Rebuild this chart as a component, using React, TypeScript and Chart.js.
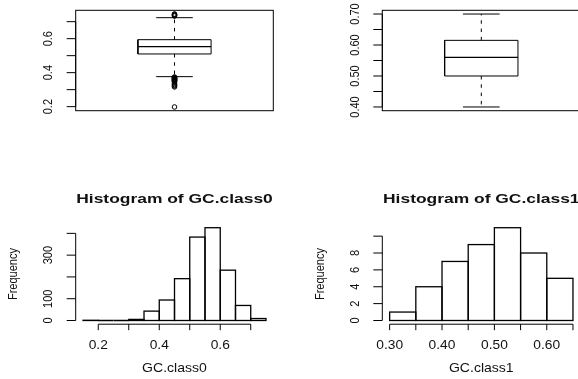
import React, { useEffect, useRef } from "react";
import { Chart, registerables } from "chart.js";

Chart.register(...registerables);

// ---------------- Data ----------------
// Boxplot of GC.class0: [lower whisker, Q1, median, Q3, upper whisker]
const box0Stats = [0.3765, 0.51, 0.553, 0.594, 0.7235];
const box0Outliers = [
  0.198, 0.316, 0.321, 0.326, 0.33, 0.338, 0.345, 0.349, 0.352, 0.354, 0.356, 0.358,
  0.36, 0.362, 0.364, 0.366, 0.368, 0.37, 0.372, 0.374, 0.733, 0.736, 0.74,
  0.743, 0.745,
];
const box0Ticks = [0.2, 0.3, 0.4, 0.5, 0.6, 0.7];
const box0TickLabels = ["0.2", "", "0.4", "", "0.6", ""];

// Boxplot of GC.class1
const box1Stats = [0.4, 0.5, 0.56, 0.615, 0.7];
const box1Outliers: number[] = [];
const box1Ticks = [0.4, 0.45, 0.5, 0.55, 0.6, 0.65, 0.7];
const box1TickLabels = ["0.40", "", "0.50", "", "0.60", "", "0.70"];

// Histogram of GC.class0
const hist0Breaks = [0.15, 0.2, 0.25, 0.3, 0.35, 0.4, 0.45, 0.5, 0.55, 0.6, 0.65, 0.7, 0.75];
const hist0Counts = [1, 0, 0, 5, 43, 94, 192, 383, 426, 231, 69, 9];
const hist0XTicks = [0.2, 0.3, 0.4, 0.5, 0.6, 0.7];
const hist0XLabels = ["0.2", "", "0.4", "", "0.6", ""];
const hist0YTicks = [0, 100, 200, 300, 400];
const hist0YLabels = ["0", "100", "", "300", ""];

// Histogram of GC.class1
const hist1Breaks = [0.3, 0.35, 0.4, 0.45, 0.5, 0.55, 0.6, 0.65];
const hist1Counts = [1, 4, 7, 9, 11, 8, 5];
const hist1XTicks = [0.3, 0.35, 0.4, 0.45, 0.5, 0.55, 0.6, 0.65];
const hist1XLabels = ["0.30", "", "0.40", "", "0.50", "", "0.60", ""];
const hist1YTicks = [0, 2, 4, 6, 8, 10];
const hist1YLabels = ["0", "2", "4", "6", "8", ""];

const hist0Title = "Histogram of GC.class0";
const hist1Title = "Histogram of GC.class1";
const hist0XTitle = "GC.class0";
const hist1XTitle = "GC.class1";
const freqLabel = "Frequency";

// ---------------- Layout / style ----------------
const CW = 600;
const CH = 379;
const INK = "#000";
const TEXT = "#111";
const FONT = '"Liberation Sans", Arial, Helvetica, sans-serif';

type Area = { l: number; t: number; r: number; b: number };
const AREA_TL: Area = { l: 75.7, t: 10.3, r: 273.3, b: 110.7 };
const AREA_TR: Area = { l: 382.3, t: 10.3, r: 580.3, b: 110.7 };
const AREA_BL: Area = { l: 75.7, t: 224, r: 273.3, b: 324.2 };
const AREA_BR: Area = { l: 382.3, t: 224, r: 580.3, b: 324.2 };

type Spec = {
  frame: boolean;
  outlineBars?: boolean;
  yTicks: number[];
  yLabels: string[];
  xTicks?: number[];
  xLabels?: string[];
  title?: string;
  xTitle?: string;
  yTitle?: string;
};

function drawText(
  ctx: CanvasRenderingContext2D,
  text: string,
  x: number,
  y: number,
  size: number,
  o: { bold?: boolean; rotate?: boolean; sx?: number; sy?: number } = {}
) {
  if (!text) return;
  ctx.save();
  ctx.translate(x, y);
  if (o.rotate) ctx.rotate(-Math.PI / 2);
  ctx.scale(o.sx ?? 1, o.sy ?? 1);
  ctx.font = `${o.bold ? "bold " : ""}${size}px ${FONT}`;
  ctx.fillStyle = TEXT;
  ctx.textAlign = "center";
  ctx.textBaseline = "middle";
  ctx.fillText(text, 0, 0);
  ctx.restore();
}

function rPlugin(spec: Spec) {
  return {
    id: "rAxes",
    afterDatasetsDraw(chart: any) {
      if (!spec.outlineBars) return;
      const { ctx } = chart;
      ctx.save();
      ctx.strokeStyle = INK;
      ctx.lineWidth = 1.3;
      chart.getDatasetMeta(0).data.forEach((el: any) => {
        const { x, y, base, width } = el.getProps(["x", "y", "base", "width"], true);
        ctx.strokeRect(x - width / 2, Math.min(y, base), width, Math.abs(base - y));
      });
      ctx.restore();
    },
    afterDraw(chart: any) {
      const { ctx, chartArea: ca, scales } = chart;
      const xs = scales.x;
      const ys = scales.y;
      ctx.save();
      ctx.strokeStyle = INK;
      ctx.lineWidth = 1;
      ctx.setLineDash([]);
      if (spec.frame) {
        ctx.strokeRect(ca.left, ca.top, ca.right - ca.left, ca.bottom - ca.top);
      }
      // y axis
      const yt = spec.yTicks;
      ctx.beginPath();
      ctx.moveTo(ca.left, ys.getPixelForValue(yt[0]));
      ctx.lineTo(ca.left, ys.getPixelForValue(yt[yt.length - 1]));
      yt.forEach((t) => {
        const py = ys.getPixelForValue(t);
        ctx.moveTo(ca.left, py);
        ctx.lineTo(ca.left - 9, py);
      });
      ctx.stroke();
      yt.forEach((t, i) => {
        drawText(ctx, spec.yLabels[i], ca.left - 27, ys.getPixelForValue(t), 11, {
          rotate: true,
          sy: 1.1,
        });
      });
      // x axis
      if (spec.xTicks && spec.xLabels) {
        const xt = spec.xTicks;
        ctx.beginPath();
        ctx.moveTo(xs.getPixelForValue(xt[0]), ca.bottom);
        ctx.lineTo(xs.getPixelForValue(xt[xt.length - 1]), ca.bottom);
        xt.forEach((t) => {
          const px = xs.getPixelForValue(t);
          ctx.moveTo(px, ca.bottom);
          ctx.lineTo(px, ca.bottom + 6);
        });
        ctx.stroke();
        xt.forEach((t, i) => {
          drawText(ctx, spec.xLabels![i], xs.getPixelForValue(t), ca.bottom + 21, 13, { sx: 1.06 });
        });
      }
      const cx = (ca.left + ca.right) / 2;
      const cy = (ca.top + ca.bottom) / 2;
      if (spec.title) drawText(ctx, spec.title, cx, ca.top - 25, 13, { bold: true, sx: 1.34 });
      if (spec.xTitle) drawText(ctx, spec.xTitle, cx, ca.bottom + 44, 13, { sx: 1.08 });
      if (spec.yTitle) drawText(ctx, spec.yTitle, ca.left - 62, cy, 11, { rotate: true, sy: 1.1 });
      ctx.restore();
    },
  };
}

function padding(a: Area) {
  return { left: a.l, top: a.t, right: CW - a.r, bottom: CH - a.b };
}

function boxConfig(stats: number[], outliers: number[], ticks: number[], labels: string[], area: Area) {
  const [lo, q1, med, q3, hi] = stats;
  const all = [...stats, ...outliers];
  const mn = Math.min(...all);
  const mx = Math.max(...all);
  const ext = 0.04 * (mx - mn);
  const center = 1;
  const half = 0.2; // boxwex 0.8 * 0.5
  const capHalf = 0.1;
  const seg = (pts: { x: number; y: number }[], extra: any = {}) => ({
    data: pts,
    showLine: true,
    pointRadius: 0,
    borderColor: INK,
    borderWidth: 1,
    fill: false,
    tension: 0,
    ...extra,
  });
  return {
    type: "scatter",
    data: {
      datasets: [
        seg([
          { x: center - half, y: q1 },
          { x: center + half, y: q1 },
          { x: center + half, y: q3 },
          { x: center - half, y: q3 },
          { x: center - half, y: q1 },
        ]),
        seg([{ x: center - half, y: med }, { x: center + half, y: med }], { borderWidth: 1.2 }),
        seg([{ x: center, y: q3 }, { x: center, y: hi }], { borderDash: [3.5, 4.8] }),
        seg([{ x: center, y: q1 }, { x: center, y: lo }], { borderDash: [3.5, 4.8] }),
        seg([{ x: center - capHalf, y: hi }, { x: center + capHalf, y: hi }]),
        seg([{ x: center - capHalf, y: lo }, { x: center + capHalf, y: lo }]),
        {
          data: outliers.map((v) => ({ x: center, y: v })),
          showLine: false,
          pointRadius: 2.3,
          pointStyle: "circle",
          pointBorderColor: INK,
          pointBackgroundColor: "rgba(0,0,0,0)",
          pointBorderWidth: 1,
        },
      ],
    },
    options: {
      animation: false,
      responsive: false,
      events: [],
      layout: { padding: padding(area) },
      plugins: { legend: { display: false }, tooltip: { enabled: false } },
      scales: {
        x: { type: "linear", display: false, min: 0.5 - 0.04, max: 1.5 + 0.04 },
        y: { type: "linear", display: false, min: mn - ext, max: mx + ext },
      },
    },
    plugins: [rPlugin({ frame: true, yTicks: ticks, yLabels: labels })],
  };
}

function histConfig(
  breaks: number[],
  counts: number[],
  xTicks: number[],
  xLabels: string[],
  yTicks: number[],
  yLabels: string[],
  title: string,
  xTitle: string,
  area: Area
) {
  const b0 = breaks[0];
  const bn = breaks[breaks.length - 1];
  const xr = bn - b0;
  const cmax = Math.max(...counts);
  return {
    type: "bar",
    data: {
      datasets: [
        {
          data: counts.map((c, i) => ({ x: (breaks[i] + breaks[i + 1]) / 2, y: c })),
          backgroundColor: "#fff",
          borderWidth: 0,
          barPercentage: 1,
          categoryPercentage: 1,
          inflateAmount: 0,
        },
      ],
    },
    options: {
      animation: false,
      responsive: false,
      events: [],
      layout: { padding: padding(area) },
      plugins: { legend: { display: false }, tooltip: { enabled: false } },
      scales: {
        x: {
          type: "linear",
          display: false,
          offset: false,
          min: b0 - 0.04 * xr,
          max: bn + 0.04 * xr,
          afterBuildTicks: (s: any) => {
            s.ticks = breaks.map((v) => ({ value: v }));
          },
        },
        y: { type: "linear", display: false, min: -0.04 * cmax, max: cmax * 1.04 },
      },
    },
    plugins: [
      rPlugin({
        frame: false,
        outlineBars: true,
        yTicks,
        yLabels,
        xTicks,
        xLabels,
        title,
        xTitle,
        yTitle: freqLabel,
      }),
    ],
  };
}

function Layer({ make }: { make: () => any }) {
  const ref = useRef<HTMLCanvasElement>(null);
  useEffect(() => {
    const chart = new Chart(ref.current as HTMLCanvasElement, make());
    return () => chart.destroy();
  }, []);
  return (
    <canvas
      ref={ref}
      width={CW}
      height={CH}
      style={{ position: "absolute", left: 0, top: 0, width: CW, height: CH }}
    />
  );
}

export default function App() {
  return (
    <div
      style={{
        position: "fixed",
        left: 0,
        top: 0,
        width: 578,
        height: 379,
        overflow: "hidden",
        background: "#fff",
      }}
    >
      <Layer make={() => boxConfig(box0Stats, box0Outliers, box0Ticks, box0TickLabels, AREA_TL)} />
      <Layer make={() => boxConfig(box1Stats, box1Outliers, box1Ticks, box1TickLabels, AREA_TR)} />
      <Layer
        make={() =>
          histConfig(
            hist0Breaks,
            hist0Counts,
            hist0XTicks,
            hist0XLabels,
            hist0YTicks,
            hist0YLabels,
            hist0Title,
            hist0XTitle,
            AREA_BL
          )
        }
      />
      <Layer
        make={() =>
          histConfig(
            hist1Breaks,
            hist1Counts,
            hist1XTicks,
            hist1XLabels,
            hist1YTicks,
            hist1YLabels,
            hist1Title,
            hist1XTitle,
            AREA_BR
          )
        }
      />
    </div>
  );
}
